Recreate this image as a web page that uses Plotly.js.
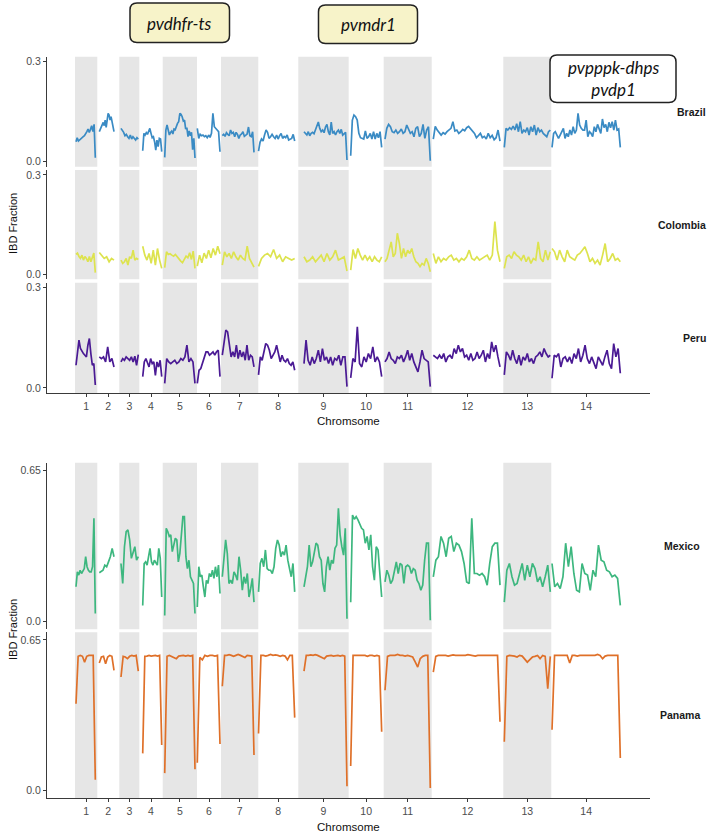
<!DOCTYPE html>
<html>
<head>
<meta charset="utf-8">
<script src="https://cdn.plot.ly/plotly-3.0.1.min.js"></script>
<style>html,body{margin:0;padding:0;background:#fff;}#chart{width:711px;height:834px;}</style>
</head>
<body>
<div id="chart"></div>
<script>
// ---------------- DATA ----------------
const chromLabels = ['1','2','3','4','5','6','7','8','9','10','11','12','13','14'];
// chromosome lengths (Mb)
const chromLengths = [0.977, 0.964, 0.877, 1.025, 1.503, 1.052, 1.634, 1.753, 2.208, 1.534, 2.104, 3.137, 2.104, 3.055];
// first / last window position inside each chromosome (Mb from chromosome start)
const dataStart = [0.044, 0.088, 0.074, 0.149, 0.088, 0.013, 0.057, 0.010, 0.250, 0.088, 0.057, 0.070, 0.044, 0.031];
const dataEnd   = [0.890, 0.732, 0.833, 0.982, 1.415, 1.008, 1.446, 1.595, 2.134, 1.446, 2.042, 2.993, 2.060, 3.024];

const brazil = [
  [0.060,0.072,0.062,0.066,0.069,0.072,0.075,0.078,0.083,0.090,0.098,0.088,0.097,0.108,0.090,0.112,0.012],
  [0.090,0.097,0.104,0.112,0.118,0.108,0.125,0.103,0.130,0.145,0.140,0.125,0.135,0.118,0.110,0.090],
  [0.100,0.095,0.088,0.078,0.082,0.075,0.070,0.080,0.068,0.075,0.070,0.065,0.072,0.068],
  [0.033,0.085,0.080,0.087,0.082,0.095,0.100,0.085,0.072,0.075,0.060,0.035,0.065,0.045,0.070,0.068,0.030],
  [0.013,0.095,0.110,0.095,0.080,0.088,0.092,0.083,0.098,0.096,0.108,0.115,0.120,0.145,0.142,0.135,0.122,0.125,0.098,0.102,0.075,0.092,0.078,0.088,0.036,0.070,0.011],
  [0.100,0.070,0.082,0.078,0.080,0.075,0.078,0.072,0.080,0.073,0.085,0.145,0.105,0.098,0.095,0.090,0.030],
  [0.078,0.082,0.076,0.087,0.082,0.078,0.095,0.085,0.088,0.075,0.088,0.082,0.070,0.080,0.083,0.090,0.076,0.080,0.083,0.104,0.078,0.075,0.090,0.028],
  [0.032,0.058,0.068,0.062,0.080,0.095,0.088,0.070,0.075,0.082,0.075,0.070,0.080,0.068,0.078,0.085,0.070,0.076,0.072,0.080,0.065,0.068,0.070,0.082,0.062],
  [0.090,0.085,0.080,0.090,0.078,0.085,0.088,0.084,0.095,0.104,0.119,0.100,0.090,0.095,0.087,0.104,0.112,0.090,0.080,0.119,0.085,0.090,0.080,0.090,0.095,0.085,0.097,0.080,0.085,0.088,0.005],
  [0.018,0.124,0.140,0.135,0.125,0.085,0.072,0.070,0.068,0.092,0.070,0.075,0.085,0.068,0.090,0.068,0.085,0.072,0.090,0.043],
  [0.068,0.100,0.112,0.105,0.090,0.087,0.095,0.085,0.090,0.098,0.085,0.090,0.110,0.095,0.085,0.090,0.075,0.100,0.105,0.075,0.085,0.112,0.070,0.095,0.105,0.003],
  [0.068,0.106,0.095,0.087,0.080,0.087,0.083,0.090,0.095,0.100,0.120,0.092,0.095,0.085,0.090,0.097,0.093,0.102,0.106,0.099,0.090,0.085,0.072,0.079,0.085,0.072,0.076,0.068,0.085,0.072,0.079,0.066,0.072,0.095,0.062],
  [0.043,0.100,0.095,0.102,0.097,0.107,0.095,0.114,0.090,0.120,0.085,0.095,0.090,0.102,0.080,0.105,0.090,0.110,0.080,0.102,0.090,0.095,0.085,0.080,0.075,0.090,0.095],
  [0.043,0.085,0.090,0.080,0.070,0.080,0.090,0.100,0.070,0.085,0.075,0.095,0.080,0.105,0.085,0.095,0.145,0.110,0.100,0.095,0.095,0.125,0.075,0.090,0.085,0.075,0.105,0.090,0.112,0.095,0.085,0.128,0.102,0.112,0.090,0.118,0.102,0.120,0.095,0.125,0.095,0.098,0.043]
];

const colombia = [
  [0.060,0.064,0.054,0.048,0.058,0.043,0.054,0.048,0.038,0.054,0.038,0.054,0.064,0.005],
  [0.066,0.058,0.048,0.053,0.038,0.048,0.043],
  [0.043,0.033,0.038,0.048,0.028,0.053,0.048,0.073,0.043,0.048,0.045],
  [0.085,0.058,0.043,0.063,0.033,0.073,0.028,0.078,0.043,0.018],
  [0.020,0.068,0.060,0.062,0.058,0.055,0.060,0.052,0.048,0.040,0.035,0.045,0.055,0.050,0.065,0.045,0.070,0.018],
  [0.025,0.058,0.035,0.064,0.048,0.073,0.050,0.078,0.058,0.085,0.062],
  [0.028,0.068,0.053,0.063,0.048,0.068,0.053,0.043,0.058,0.048,0.043,0.085,0.048,0.033,0.022],
  [0.024,0.048,0.058,0.063,0.053,0.075,0.048,0.058,0.038,0.053,0.048,0.043,0.048],
  [0.053,0.038,0.043,0.053,0.038,0.048,0.058,0.038,0.063,0.043,0.053,0.073,0.043,0.048,0.053,0.010],
  [0.013,0.075,0.048,0.078,0.058,0.043,0.058,0.043,0.053,0.038,0.053,0.043,0.038,0.053],
  [0.038,0.048,0.073,0.098,0.053,0.063,0.124,0.093,0.048,0.078,0.053,0.073,0.063,0.078,0.053,0.038,0.033,0.023,0.033,0.028,0.048,0.033,0.008],
  [0.063,0.033,0.053,0.038,0.048,0.043,0.053,0.058,0.043,0.048,0.038,0.048,0.043,0.053,0.073,0.048,0.043,0.053,0.043,0.048,0.053,0.058,0.043,0.058,0.159,0.073,0.038],
  [0.018,0.053,0.058,0.048,0.068,0.058,0.053,0.043,0.058,0.038,0.053,0.033,0.048,0.043,0.098,0.048,0.038,0.073,0.043,0.068],
  [0.078,0.068,0.043,0.073,0.053,0.038,0.073,0.053,0.048,0.043,0.058,0.063,0.073,0.083,0.063,0.038,0.048,0.033,0.043,0.028,0.058,0.093,0.038,0.048,0.063,0.043,0.048,0.038]
];

const peru = [
  [0.068,0.113,0.143,0.118,0.108,0.103,0.098,0.093,0.128,0.148,0.103,0.068,0.073,0.009],
  [0.093,0.088,0.093,0.078,0.123,0.078,0.088,0.063],
  [0.078,0.088,0.083,0.093,0.088,0.083,0.093,0.078,0.095,0.068,0.100],
  [0.034,0.078,0.088,0.073,0.063,0.088,0.073,0.078,0.038,0.078,0.063,0.083,0.034],
  [0.014,0.088,0.078,0.073,0.078,0.083,0.073,0.078,0.088,0.083,0.093,0.128,0.078,0.088,0.078,0.014],
  [0.014,0.053,0.058,0.073,0.093,0.108,0.108,0.098,0.103,0.108,0.098,0.108,0.113,0.034],
  [0.098,0.143,0.173,0.168,0.123,0.093,0.108,0.093,0.128,0.088,0.113,0.093,0.108,0.083,0.128,0.083,0.098,0.093,0.063],
  [0.039,0.093,0.083,0.108,0.133,0.128,0.113,0.088,0.098,0.108,0.128,0.103,0.078,0.098,0.083,0.078,0.088,0.073,0.068,0.078,0.053],
  [0.073,0.143,0.083,0.068,0.093,0.073,0.088,0.113,0.078,0.118,0.083,0.093,0.073,0.093,0.068,0.088,0.083,0.098,0.068,0.093,0.093,0.004],
  [0.030,0.088,0.078,0.183,0.073,0.063,0.093,0.078,0.103,0.088,0.123,0.078,0.093,0.078,0.034],
  [0.078,0.088,0.108,0.088,0.083,0.073,0.093,0.088,0.098,0.078,0.093,0.113,0.083,0.103,0.078,0.063,0.048,0.078,0.113,0.088,0.083,0.078,0.004],
  [0.098,0.093,0.088,0.098,0.088,0.103,0.078,0.093,0.098,0.088,0.118,0.103,0.128,0.108,0.118,0.093,0.098,0.083,0.103,0.083,0.088,0.108,0.088,0.098,0.113,0.078,0.103,0.088,0.138,0.108,0.128,0.093,0.063],
  [0.039,0.108,0.098,0.083,0.113,0.088,0.073,0.098,0.068,0.093,0.083,0.103,0.078,0.088,0.073,0.093,0.098,0.108,0.093,0.118,0.103,0.093,0.098],
  [0.029,0.098,0.093,0.103,0.063,0.088,0.093,0.078,0.093,0.073,0.103,0.088,0.118,0.078,0.098,0.128,0.088,0.073,0.093,0.078,0.058,0.093,0.078,0.068,0.093,0.113,0.073,0.058,0.133,0.093,0.118,0.044]
];

const mexico = [
  [0.150,0.214,0.200,0.221,0.207,0.221,0.228,0.279,0.236,0.221,0.214,0.214,0.236,0.444,0.035],
  [0.210,0.214,0.221,0.243,0.236,0.257,0.279,0.315,0.279],
  [0.250,0.164,0.322,0.387,0.394,0.351,0.272,0.293,0.322,0.264,0.279],
  [0.070,0.250,0.257,0.243,0.279,0.315,0.257,0.243,0.264,0.250,0.243,0.315,0.272,0.106],
  [0.027,0.401,0.387,0.366,0.373,0.301,0.329,0.358,0.351,0.257,0.293,0.358,0.451,0.451,0.279,0.228,0.264,0.193,0.178,0.164,0.035],
  [0.063,0.236,0.193,0.200,0.150,0.106,0.178,0.164,0.207,0.193,0.221,0.186,0.236,0.193,0.243,0.121],
  [0.193,0.264,0.351,0.293,0.164,0.178,0.164,0.214,0.200,0.178,0.279,0.221,0.135,0.193,0.164,0.207,0.106,0.142,0.186,0.084],
  [0.128,0.250,0.272,0.236,0.308,0.228,0.221,0.221,0.207,0.236,0.315,0.351,0.329,0.279,0.301,0.286,0.329,0.264,0.228,0.193,0.250,0.128],
  [0.150,0.193,0.236,0.329,0.236,0.257,0.293,0.337,0.329,0.279,0.264,0.164,0.128,0.236,0.279,0.221,0.264,0.250,0.315,0.329,0.487,0.373,0.322,0.286,0.401,0.013],
  [0.084,0.458,0.440,0.451,0.437,0.415,0.401,0.394,0.337,0.366,0.308,0.373,0.236,0.178,0.322,0.308,0.207,0.106],
  [0.171,0.221,0.200,0.164,0.178,0.214,0.257,0.207,0.250,0.243,0.164,0.236,0.243,0.236,0.207,0.228,0.221,0.178,0.164,0.135,0.157,0.264,0.337,0.337,0.006],
  [0.193,0.264,0.279,0.366,0.337,0.279,0.358,0.366,0.301,0.337,0.329,0.301,0.250,0.171,0.164,0.444,0.207,0.207,0.200,0.207,0.193,0.157,0.250,0.322,0.337,0.337,0.157],
  [0.084,0.221,0.250,0.193,0.157,0.164,0.207,0.250,0.178,0.243,0.193,0.250,0.228,0.171,0.193,0.150,0.193,0.243,0.128],
  [0.250,0.150,0.164,0.142,0.193,0.337,0.236,0.322,0.207,0.135,0.128,0.250,0.207,0.200,0.135,0.221,0.193,0.329,0.264,0.257,0.221,0.214,0.193,0.200,0.186,0.070]
];

const panama = [
  [0.375,0.579,0.583,0.579,0.554,0.579,0.583,0.583,0.583,0.047],
  [0.550,0.576,0.579,0.547,0.576,0.583,0.579,0.518],
  [0.490,0.579,0.576,0.569,0.579,0.583,0.580,0.583,0.515],
  [0.161,0.579,0.580,0.583,0.580,0.583,0.583,0.580,0.583,0.197],
  [0.076,0.579,0.583,0.579,0.575,0.569,0.580,0.583,0.583,0.580,0.583,0.580,0.583,0.093],
  [0.121,0.574,0.564,0.583,0.579,0.583,0.583,0.580,0.583,0.201],
  [0.450,0.583,0.583,0.586,0.583,0.579,0.583,0.587,0.583,0.580,0.574,0.583,0.583,0.580,0.154],
  [0.247,0.583,0.583,0.580,0.583,0.587,0.583,0.585,0.583,0.579,0.583,0.580,0.564,0.583,0.583,0.315],
  [0.515,0.583,0.583,0.585,0.583,0.586,0.583,0.579,0.575,0.569,0.580,0.583,0.583,0.580,0.583,0.583,0.580,0.583,0.580,0.019],
  [0.107,0.583,0.583,0.583,0.580,0.583,0.583,0.579,0.583,0.583,0.580,0.583,0.580,0.254],
  [0.433,0.579,0.583,0.583,0.583,0.587,0.583,0.583,0.580,0.583,0.579,0.576,0.555,0.533,0.569,0.579,0.583,0.583,0.012],
  [0.511,0.579,0.583,0.583,0.586,0.583,0.580,0.583,0.585,0.583,0.583,0.580,0.583,0.583,0.586,0.583,0.583,0.580,0.583,0.583,0.583,0.580,0.583,0.583,0.583,0.583,0.583,0.297],
  [0.211,0.579,0.583,0.583,0.580,0.576,0.583,0.580,0.569,0.554,0.565,0.576,0.579,0.583,0.569,0.583,0.579,0.440,0.579],
  [0.263,0.583,0.583,0.583,0.580,0.583,0.583,0.550,0.583,0.583,0.580,0.583,0.583,0.583,0.583,0.583,0.580,0.583,0.587,0.583,0.569,0.580,0.583,0.583,0.580,0.583,0.583,0.141]
];

const panelNames = ['Brazil','Colombia','Peru','Mexico','Panama'];
const geneLabels = ['pvdhfr-ts','pvmdr1','pvpppk-dhps','pvdp1'];

// ---------------- BUILD ----------------
const W = 711, H = 834;
const FONT = "'Liberation Sans', Arial, Helvetica, sans-serif";
const offsets = [];
let acc = 0;
chromLengths.forEach(l => { offsets.push(acc); acc += l; });
const centers = chromLengths.map((l, i) => offsets[i] + l / 2);

function buildTrace(vals, color, xa, ya) {
  const xs = [], ys = [];
  vals.forEach((arr, c) => {
    const n = arr.length;
    arr.forEach((v, i) => {
      xs.push(offsets[c] + dataStart[c] + (dataEnd[c] - dataStart[c]) * i / (n - 1));
      ys.push(v);
    });
    xs.push(null); ys.push(null);
  });
  return {type: 'scatter', mode: 'lines', x: xs, y: ys, xaxis: xa, yaxis: ya,
    line: {color: color, width: 1.7}, hoverinfo: 'skip', showlegend: false, connectgaps: false};
}

const series = [brazil, colombia, peru, mexico, panama];
const colors = ['#3A8BC4', '#DDE34E', '#4A1A94', '#3DB77F', '#DF7029'];
const xas = ['x', 'x', 'x', 'x2', 'x2'];
const yas = ['y', 'y2', 'y3', 'y4', 'y5'];
const traces = series.map((s, i) => buildTrace(s, colors[i], xas[i], yas[i]));

const px = p => p / W;
const py = p => 1 - p / H;
// panel pixel extents (top, bottom)
const panelPx = [[56.7, 166.7], [170, 279.3], [282.7, 393], [462.7, 629.3], [632.3, 798.3]];

const xRange = [-1.227, 25.197];
const xDomain = [px(47), px(650)];
const axisLine = '#3a3a3a';
const tickFont = {family: FONT, size: 10.5, color: '#4D4D4D'};

function xAxis(anchor) {
  return {domain: xDomain, range: xRange, anchor: anchor, showgrid: false, zeroline: false,
    showline: true, linecolor: axisLine, linewidth: 1, ticks: 'outside', ticklen: 3, tickwidth: 1,
    tickcolor: axisLine, tickvals: centers, ticktext: chromLabels, tickfont: tickFont, fixedrange: true};
}
function yAxis(i, anchor, top) {
  const small = top === 0.3;
  return {domain: [py(panelPx[i][1]), py(panelPx[i][0])],
    range: small ? [-0.015, 0.315] : [-0.0325, 0.6825], anchor: anchor,
    showgrid: false, zeroline: false, showline: true, linecolor: axisLine, linewidth: 1,
    ticks: 'outside', ticklen: 3, tickwidth: 1, tickcolor: axisLine,
    tickvals: [0, top], ticktext: ['0.0', small ? '0.3' : '0.65'], tickfont: tickFont, fixedrange: true};
}

const shapes = [];
for (let p = 0; p < 5; p++) {
  for (let c = 0; c < chromLengths.length; c += 2) {
    shapes.push({type: 'rect', layer: 'below', xref: xas[p], yref: yas[p] + ' domain',
      x0: offsets[c], x1: offsets[c] + chromLengths[c], y0: 0, y1: 1,
      fillcolor: '#E6E6E6', line: {width: 0}});
  }
}

function roundRect(x0, y0, x1, y1, r) {
  const X = v => px(v).toFixed(5), Y = v => py(v).toFixed(5);
  return 'M' + X(x0 + r) + ',' + Y(y0) + ' L' + X(x1 - r) + ',' + Y(y0) +
    ' Q' + X(x1) + ',' + Y(y0) + ' ' + X(x1) + ',' + Y(y0 + r) +
    ' L' + X(x1) + ',' + Y(y1 - r) +
    ' Q' + X(x1) + ',' + Y(y1) + ' ' + X(x1 - r) + ',' + Y(y1) +
    ' L' + X(x0 + r) + ',' + Y(y1) +
    ' Q' + X(x0) + ',' + Y(y1) + ' ' + X(x0) + ',' + Y(y1 - r) +
    ' L' + X(x0) + ',' + Y(y0 + r) +
    ' Q' + X(x0) + ',' + Y(y0) + ' ' + X(x0 + r) + ',' + Y(y0) + ' Z';
}
const boxes = [
  {b: [130, 3, 229.5, 42.5], fill: '#F7F3C9', text: '<i>' + geneLabels[0] + '</i>', tx: 179.5, ty: 23},
  {b: [318.5, 5, 417.5, 43.5], fill: '#F7F3C9', text: '<i>' + geneLabels[1] + '</i>', tx: 368, ty: 24.5},
  {b: [550, 55, 676, 102.5], fill: '#FFFFFF', text: '<i>' + geneLabels[2] + '</i><br><i>' + geneLabels[3] + '</i>', tx: 613, ty: 78.5}
];
boxes.forEach(bx => {
  shapes.push({type: 'path', xref: 'paper', yref: 'paper', layer: 'above',
    path: roundRect(bx.b[0], bx.b[1], bx.b[2], bx.b[3], 7),
    fillcolor: bx.fill, line: {color: '#222222', width: 1.5}});
});

const annotations = [];
boxes.forEach(bx => {
  annotations.push({xref: 'paper', yref: 'paper', x: px(bx.tx), y: py(bx.ty), text: bx.text,
    showarrow: false, xanchor: 'center', yanchor: 'middle',
    font: {family: "Lato, 'Open Sans', sans-serif", size: 17, color: '#111'}});
});
const labelRight = [708, 708, 708, 702, 702];
panelNames.forEach((n, i) => {
  annotations.push({xref: 'paper', yref: 'paper', x: px(labelRight[i]),
    y: py((panelPx[i][0] + panelPx[i][1]) / 2), text: '<b>' + n + '</b>', showarrow: false,
    xanchor: 'right', yanchor: 'middle', font: {family: FONT, size: 10.5, color: '#1A1A1A'}});
});
[[421, 224], [827, 630]].forEach(([cy, iy]) => {
  annotations.push({xref: 'paper', yref: 'paper', x: px(348.5), y: py(cy), text: 'Chromsome',
    showarrow: false, xanchor: 'center', yanchor: 'middle', font: {family: FONT, size: 11.5, color: '#111'}});
  annotations.push({xref: 'paper', yref: 'paper', x: px(13), y: py(iy), text: 'IBD Fraction',
    textangle: -90, showarrow: false, xanchor: 'center', yanchor: 'middle',
    font: {family: FONT, size: 11, color: '#111'}});
});

const layout = {
  width: W, height: H, margin: {l: 0, r: 0, t: 0, b: 0},
  paper_bgcolor: '#FFFFFF', plot_bgcolor: 'rgba(0,0,0,0)', showlegend: false,
  font: {family: FONT},
  xaxis: xAxis('y3'), xaxis2: xAxis('y5'),
  yaxis: yAxis(0, 'x', 0.3), yaxis2: yAxis(1, 'x', 0.3), yaxis3: yAxis(2, 'x', 0.3),
  yaxis4: yAxis(3, 'x2', 0.65), yaxis5: yAxis(4, 'x2', 0.65),
  shapes: shapes, annotations: annotations
};

Plotly.newPlot('chart', traces, layout, {displayModeBar: false, staticPlot: true});
</script>
</body>
</html>
